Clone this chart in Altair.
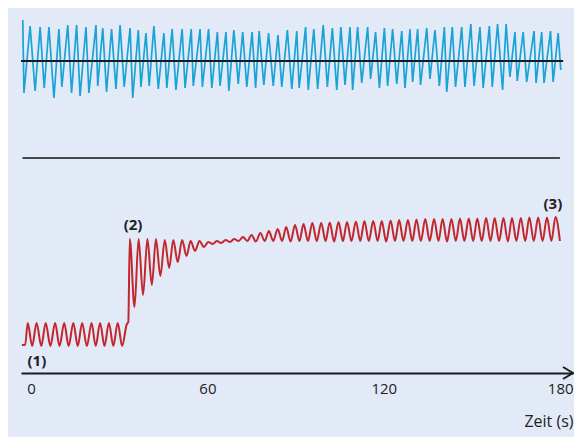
import altair as alt
import pandas as pd

# ---------------- data (time in s, signal in arbitrary units) ----------------
# upper trace (blue, sawtooth-like)
blue_t = [-2.8, -2.4, -0.3, 1.4, 3.1, 4.5, 6.1, 7.8, 9.5, 10.5,
          12.5, 13.8, 15.5, 16.7, 18.7, 19.7, 22.1, 22.7, 24.4, 25.7,
          27.4, 28.9, 30.3, 31.7, 33.7, 34.6, 36.5, 37.4, 39.1, 40.2,
          41.8, 43.3, 45.2, 46.2, 48.0, 49.3, 51.4, 52.4, 54.5, 55.2,
          57.5, 58.3, 60.4, 61.5, 63.4, 64.3, 66.3, 67.3, 69.0, 70.5,
          72.0, 73.4, 75.2, 76.4, 77.6, 79.2, 80.8, 82.4, 84.0, 85.3,
          87.2, 88.7, 90.4, 91.2, 93.4, 94.3, 96.2, 97.5, 99.4, 100.8,
          102.5, 104.0, 105.4, 106.8, 108.5, 109.4, 111.1, 112.5, 114.5, 115.5,
          117.2, 118.5, 120.2, 121.3, 123.0, 124.4, 126.1, 127.2, 128.9, 129.8,
          131.5, 132.5, 134.6, 135.7, 137.4, 138.9, 140.6, 141.4, 143.3, 144.4,
          146.5, 147.6, 149.6, 150.7, 152.7, 153.8, 155.9, 156.9, 158.7, 160.4,
          161.6, 162.9, 164.6, 165.4, 167.4, 168.6, 171.1, 171.8, 173.7, 174.5,
          176.7, 177.6, 179.3, 180.2]
blue_v = [353, 280, 347, 282, 346, 285, 346, 275, 344, 286,
          348, 280, 348, 277, 346, 280, 348, 287, 345, 281,
          344, 284, 348, 286, 345, 275, 343, 286, 340, 287,
          347, 284, 340, 285, 344, 283, 344, 285, 344, 287,
          344, 286, 344, 285, 341, 287, 341, 282, 343, 289,
          341, 286, 341, 285, 342, 288, 340, 287, 338, 286,
          343, 284, 342, 285, 346, 283, 344, 284, 348, 286,
          345, 283, 346, 288, 346, 283, 346, 290, 346, 294,
          341, 285, 345, 287, 344, 289, 342, 285, 344, 291,
          344, 288, 345, 294, 343, 287, 346, 281, 346, 286,
          346, 286, 349, 287, 346, 285, 347, 286, 349, 283,
          349, 296, 341, 292, 341, 291, 342, 290, 341, 290,
          342, 291, 340, 303]
blue_baseline = 312

# lower trace (red): segment before the step (1)
seg1_t = [-3.1, -2.0, -1.1, 0.4, 1.9, 3.5, 5.0, 6.6, 8.2, 9.7, 11.3, 12.8,
          14.4, 15.9, 17.4, 19.0, 20.6, 22.0, 23.5, 25.0, 26.5, 28.0,
          29.5, 31.0, 32.6, 33.1]
seg1_v = [28, 28, 50, 27, 50, 27, 50, 27, 50, 27, 50, 27,
          50, 27, 50, 27, 50, 27, 50, 27, 50, 27,
          50, 27, 49, 51]
# after the step (2) -> (3): peaks and troughs
peak_t = [33.6, 36.6, 39.6, 42.5, 45.5, 48.4, 51.4, 54.3, 57.3, 60.3,
          63.2, 66.2, 69.1, 72.1, 75.0, 78.0, 80.9, 83.9, 86.8, 89.8,
          92.7, 95.7, 98.7, 101.6, 104.6, 107.5, 110.5, 113.4, 116.4, 119.3,
          122.3, 125.2, 128.2, 131.1, 134.1, 137.1, 140.0, 143.0, 145.9, 148.9,
          151.8, 154.8, 157.7, 160.7, 163.6, 166.6, 169.5, 172.5, 175.5, 178.4]
peak_v = [134, 134, 134, 134, 133, 133, 133, 132, 132, 131,
          132, 133, 134, 136, 138, 140, 142, 144, 146, 148,
          149, 150, 150, 150.5, 151, 151, 151.5, 152, 152, 152,
          152.5, 153, 153, 153.5, 154, 154, 154, 154, 154.5, 154.5,
          154.5, 155, 155, 155, 155, 155, 155.5, 155.5, 155.5, 156]
trough_t = [35.2, 38.1, 41.1, 44.0, 47.0, 49.9, 52.9, 55.8, 58.8, 61.8,
            64.7, 67.7, 70.6, 73.6, 76.5, 79.5, 82.4, 85.4, 88.3, 91.3,
            94.2, 97.2, 100.2, 103.1, 106.1, 109.0, 112.0, 114.9, 117.9, 120.8,
            123.8, 126.7, 129.7, 132.6, 135.6, 138.6, 141.5, 144.5, 147.4, 150.4,
            153.3, 156.3, 159.2, 162.2, 165.1, 168.1, 171.0, 174.0, 177.0, 179.9]
trough_v = [66, 78, 88, 97, 105, 111, 117, 122, 126, 129,
            130, 131, 132, 132, 131.5, 132, 132, 132, 131.5, 132,
            132, 132, 132, 131.5, 132, 132, 132, 132, 132, 131.5,
            132, 132, 132, 132, 132, 132, 131.5, 132, 132, 132,
            132, 132, 132, 131.5, 132, 132, 132, 132, 132, 132]
separator_v = 215

labels_txt = ["(1)", "(2)", "(3)"]
labels_t = [2.0, 34.7, 177.5]
labels_v = [12, 148, 169]

x_ticks = [0, 60, 120, 180]
x_domain = [-3.4, 184.35]

# ---------------- frames ----------------
blue = pd.DataFrame({"t": blue_t, "v": blue_v})
red = pd.concat([
    pd.DataFrame({"t": seg1_t, "v": seg1_v}),
    pd.DataFrame({"t": peak_t, "v": peak_v}),
    pd.DataFrame({"t": trough_t, "v": trough_v}),
]).sort_values("t").reset_index(drop=True)
base_df = pd.DataFrame({"t": [-3.4], "t2": [181.0], "v": [blue_baseline]})
sep_df = pd.DataFrame({"t": [-2.9], "t2": [179.9], "v": [separator_v]})
lab_df = pd.DataFrame({"txt": labels_txt, "t": labels_t, "v": labels_v})
arrow_df = pd.DataFrame({"t": [x_domain[1]], "v": [0]})

FONT = "Open Sans"
INK = "#1a1a1a"

xs = alt.Scale(domain=x_domain, nice=False, zero=False)
ys = alt.Scale(domain=[0, 365], nice=False, zero=False)
xaxis = alt.Axis(values=x_ticks, format="d", title="Zeit (s)", grid=False,
                 ticks=False, tickSize=0, domainColor=INK, domainWidth=2,
                 labelPadding=8, labelFontSize=15, labelColor="#222222",
                 labelFont=FONT, labelFlush=False,
                 titleFont=FONT, titleFontSize=16, titleFontWeight="normal",
                 titleColor="#222222", titleX=552, titleY=48,
                 titleAlign="right", titleBaseline="middle")

X = alt.X("t:Q", scale=xs, axis=xaxis)
Y = alt.Y("v:Q", scale=ys, axis=None)

sep = alt.Chart(sep_df).mark_rule(color="#111111", strokeWidth=1.4).encode(
    x=X, x2="t2:Q", y=Y)
blue_line = alt.Chart(blue).mark_line(color="#1aa3d6", strokeWidth=1.7,
                                      interpolate="linear").encode(x=X, y=Y)
base = alt.Chart(base_df).mark_rule(color=INK, strokeWidth=2).encode(
    x=X, x2="t2:Q", y=Y)
red_line = alt.Chart(red).mark_line(color="#c1272d", strokeWidth=2,
                                    interpolate="monotone").encode(x=X, y=Y)
labels = alt.Chart(lab_df).mark_text(font=FONT, fontSize=15, fontWeight="bold",
                                     color="#222222", align="center",
                                     baseline="middle").encode(x=X, y=Y, text="txt:N")
arrow = alt.Chart(arrow_df).mark_point(shape="M-1,-0.6L0,0L-1,0.6", filled=False,
                                       size=400, stroke=INK, strokeWidth=2,
                                       opacity=1).encode(x=X, y=Y)

chart = alt.layer(sep, blue_line, base, red_line, labels, arrow).properties(
    width=552, height=365,
    autosize=alt.AutoSizeParams(type="none"),
    padding={"left": 13, "top": 0, "right": 1, "bottom": 64},
    background="#e2e9f7",
).configure_view(stroke=None)

chart.save("out.html", embed_options={"renderer": "svg", "actions": False})
